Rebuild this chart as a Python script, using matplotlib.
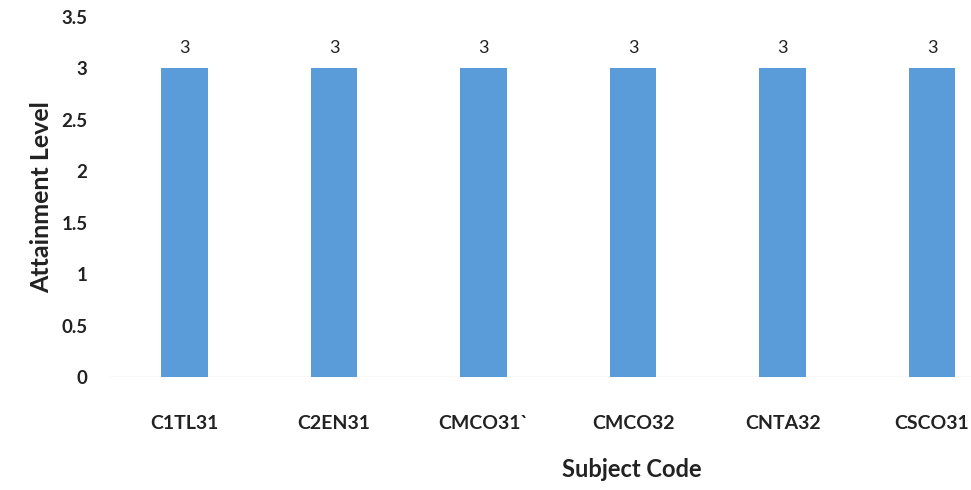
import numpy as np
import matplotlib.pyplot as plt

subjects = ["C1TL31", "C2EN31", "CMCO31`", "CMCO32", "CNTA32", "CSCO31"]
attainment = [3, 3, 3, 3, 3, 3]
y_ticks = [0, 0.5, 1, 1.5, 2, 2.5, 3, 3.5]
y_tick_labels = ["0", "0.5", "1", "1.5", "2", "2.5", "3", "3.5"]

plt.rcParams["font.family"] = ["Lato", "DejaVu Sans"]

fig = plt.figure(figsize=(9.71, 4.90), dpi=100)
ax = fig.add_axes([0.113, 0.2306, 0.887, 0.7347])

x = np.arange(len(subjects))
bars = ax.bar(x, attainment, width=0.31, color="#5A9BD9", zorder=2)
for b, v in zip(bars, attainment):
    ax.text(b.get_x() + b.get_width() / 2, v + 0.12, str(v), ha="center", va="bottom",
            fontsize=13, color="#222222")

ax.axhline(0, color="#e4e4e4", linewidth=1.0, zorder=1)
ax.set_xlim(-0.5, 5.26)
ax.set_ylim(0, 3.5)
ax.set_xticks(x)
ax.set_xticklabels(subjects, fontsize=14, fontweight="bold", color="#222222")
ax.set_yticks(y_ticks)
ax.set_yticklabels(y_tick_labels, fontsize=13.5, fontweight="bold", color="#222222")
ax.tick_params(axis="x", length=0, pad=27)
ax.tick_params(axis="y", length=0, pad=16)
for s in ax.spines.values():
    s.set_visible(False)

ax.set_ylabel("Attainment Level", fontsize=18, fontweight="bold", color="#222222", labelpad=6)
fig.text(632 / 971, 1 - 469 / 490, "Subject Code", ha="center", va="center",
         fontsize=17, fontweight="bold", color="#222222")

fig.savefig("out.png", dpi=100, facecolor="white")
